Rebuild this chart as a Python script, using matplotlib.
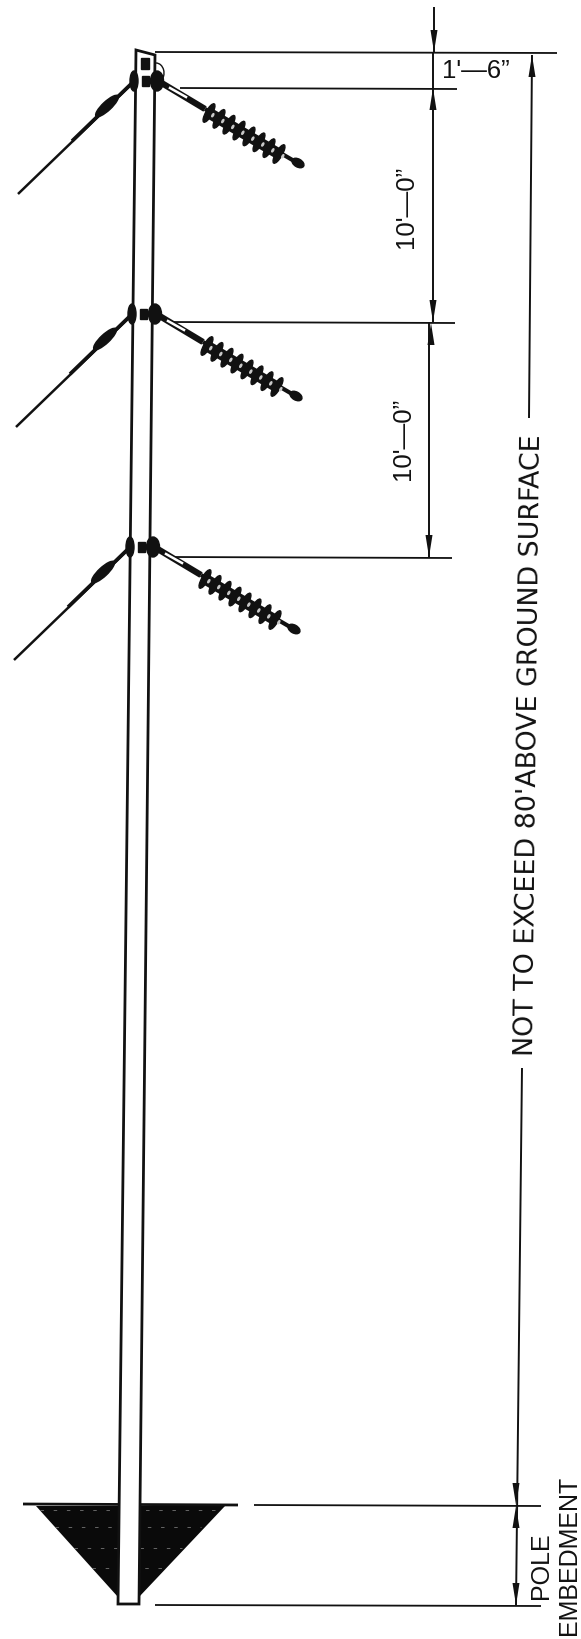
import matplotlib
matplotlib.use("Agg")
import matplotlib.pyplot as plt
from matplotlib.patches import Polygon, Ellipse, Arc
import numpy as np

plt.rcParams['font.family'] = ['Liberation Sans', 'DejaVu Sans']
BLACK = '#111111'

dim_labels = ["1'\u20146\u201d", "10'\u20140\u201d", "10'\u20140\u201d"]
span_label = "NOT TO EXCEED 80'ABOVE GROUND SURFACE"
embed_labels = ["POLE", "EMBEDMENT"]
arm_levels = [81, 314, 547]
arm_shift = [0, -2, -4]
ref_lines = [(155, 557, 52), (180, 457, 88), (168, 455, 322), (173, 452, 557), (254, 541, 1505), (155, 541, 1605)]
disc_steps = [0, 1, 2, 3, 4, 5, 6, 7]
fill_rows = [1510, 1527, 1548, 1568]

fig = plt.figure(figsize=(5.81, 16.39), dpi=100)
ax = fig.add_axes([0, 0, 1, 1])
ax.set_xlim(0, 581)
ax.set_ylim(1639, 0)
ax.axis('off')


def ln(xs, ys, lw=1.4, **k):
    ax.plot(xs, ys, color=k.pop('color', BLACK), lw=lw, solid_capstyle=k.pop('cap', 'butt'), **k)


def arrow(x, y, d):
    ax.add_patch(Polygon([(x, y), (x - 3.5, y + d * 22), (x + 3.5, y + d * 22)], color=BLACK, lw=0))


# ground
ax.add_patch(Polygon([(36, 1506), (225, 1506), (139, 1597), (118, 1597)], color='#0a0a0a', lw=0))
ln([23, 238], [1504, 1505], 2.0)
for row in fill_rows:
    half = (1597 - row) * 0.9 + 10
    ax.plot([128 - half, 128 + half], [row, row], color='#8a8a8a', lw=0.5, dashes=(5, 14), zorder=2)

# pole
ax.add_patch(Polygon([(136, 50), (155, 55), (139, 1604), (118, 1604)], fc='white', ec=BLACK, lw=2.0, zorder=3))

# hardware
for lvl, dx in zip(arm_levels, arm_shift):
    ax.add_patch(Polygon([(142 + dx, lvl - 5), (149 + dx, lvl - 5), (149 + dx, lvl + 5), (142 + dx, lvl + 5)],
                         color=BLACK, zorder=4))
    if lvl == arm_levels[0]:
        ax.add_patch(Polygon([(141, lvl - 23), (149, lvl - 23), (149, lvl - 12), (141, lvl - 12)],
                             color=BLACK, zorder=4))
        ax.add_patch(Arc((156, lvl - 8), 16, 20, theta1=-90, theta2=60, color=BLACK, lw=1.0, zorder=2))
    # clamps
    ax.add_patch(Ellipse((134 + dx, lvl), 8, 20, color=BLACK, zorder=4))
    ax.add_patch(Ellipse((157 + dx, lvl), 13, 20, color=BLACK, zorder=4))
    # guy wire
    ln([133 + dx, 18 + dx], [lvl + 2, lvl + 113], 1.8)
    ln([133 + dx, 72 + dx], [lvl + 1, lvl + 60], 2.6)
    ax.add_patch(Ellipse((107 + dx, lvl + 25), 30, 9, angle=-43, color=BLACK, zorder=2))
    # link with slot
    ln([160 + dx, 205 + dx], [lvl + 1, lvl + 28], 4.5)
    ax.plot([170 + dx, 186 + dx], [lvl + 7, lvl + 16], color='white', lw=1.8, zorder=3)
    # insulator
    ln([205 + dx, 301 + dx], [lvl + 28, lvl + 84], 3.0)
    t_vals = np.array(disc_steps) / (len(disc_steps) - 1)
    ln([209 + dx, 279 + dx], [lvl + 32, lvl + 73], 8.0)
    for t in t_vals:
        cx, cy = 209 + dx + 70 * t, lvl + 32 + 41 * t
        ax.add_patch(Ellipse((cx, cy), 6.5, 21, angle=30, color=BLACK, zorder=2))
        ax.add_patch(Ellipse((cx + 3.8, cy + 2.2), 1.4, 3.5, angle=30, color='#c8c8c8', zorder=2.5))
    ax.add_patch(Ellipse((298 + dx, lvl + 82), 13, 8, angle=30, color=BLACK, zorder=2))

# reference lines
for x0, x1, y in ref_lines:
    ln([x0, x1], [y, y + 1], 1.3)

# stacked dimensions
ln([434, 434], [7, 52], 1.4)
arrow(434, 52, -1)
ln([433, 433], [52, 322], 1.4)
arrow(433, 88, 1)
arrow(433, 322, -1)
ln([429, 429], [322, 557], 1.4)
arrow(431, 323, 1)
arrow(429, 557, -1)

# overall dimension
ln([532, 529], [55, 418], 1.4)
arrow(532, 55, 1)
ln([522, 516], [1068, 1605], 1.4)
arrow(516, 1505, -1)
arrow(516, 1506, 1)
arrow(516, 1605, -1)

tk = dict(color=BLACK, ha='center', va='center', fontweight='normal')
ax.text(476, 71, dim_labels[0], fontsize=18.5, **tk)
ax.text(406, 207, dim_labels[1], fontsize=18.5, rotation=90, **tk)
ax.text(403, 439, dim_labels[2], fontsize=18.5, rotation=90, **tk)
ax.text(530, 745, span_label, fontsize=19.4, rotation=89.35, family='DejaVu Sans', **tk)
ax.text(541, 1566, embed_labels[0], fontsize=18, rotation=90, **tk)
ax.text(569, 1555, embed_labels[1], fontsize=18, rotation=90, **tk)

fig.savefig('out.png', dpi=100, facecolor='white')
